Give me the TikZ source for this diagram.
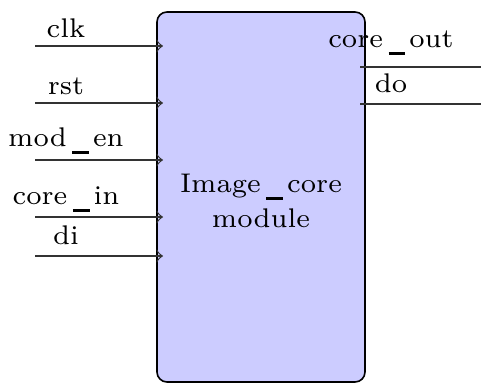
\documentclass[tikz,border=0pt]{standalone}
\newcommand{\us}{\kern0.2em\rule[-0.25em]{0.62em}{0.11em}\kern0.15em}
\begin{document}
\begin{tikzpicture}[x=0.25pt,y=-0.25pt,
  every node/.style={font=\fontsize{6.75}{8.8}\selectfont, inner sep=0pt},
  sig/.style={draw=black!80, line width=0.3pt},
  insig/.style={sig, ->},
  lbl/.style={anchor=base}]
\useasboundingbox (0,0) rectangle (481,383);
\draw[fill=blue!20, rounded corners=2.5pt] (157,12) rectangle (365,382);
\node[lbl] (core) at (261,193) {Image\us core};
\node[lbl] (mod) at (261,228) {module};
% inputs
\foreach \n/\y/\b/\t in {clk/46/38/clk, rst/103/95/rst, mod/160/147/mod\us en, cin/217/205/core\us in, di/256/245/di}{
  \coordinate (\n s) at (35,\y);
  \coordinate (\n e) at (163,\y);
  \draw[insig] (\n s) -- (\n e);
  \node[lbl] (\n l) at (66,\b) {\t};
}
% outputs
\coordinate (cos) at (360,67); \coordinate (coe) at (481,67);
\coordinate (dos) at (360,104); \coordinate (doe) at (481,104);
\draw[sig] (cos) -- (coe);
\draw[sig] (dos) -- (doe);
\node[lbl] (col) at (391,48) {core\us out};
\node[lbl] (dol) at (391,93) {do};
\end{tikzpicture}
\end{document}
